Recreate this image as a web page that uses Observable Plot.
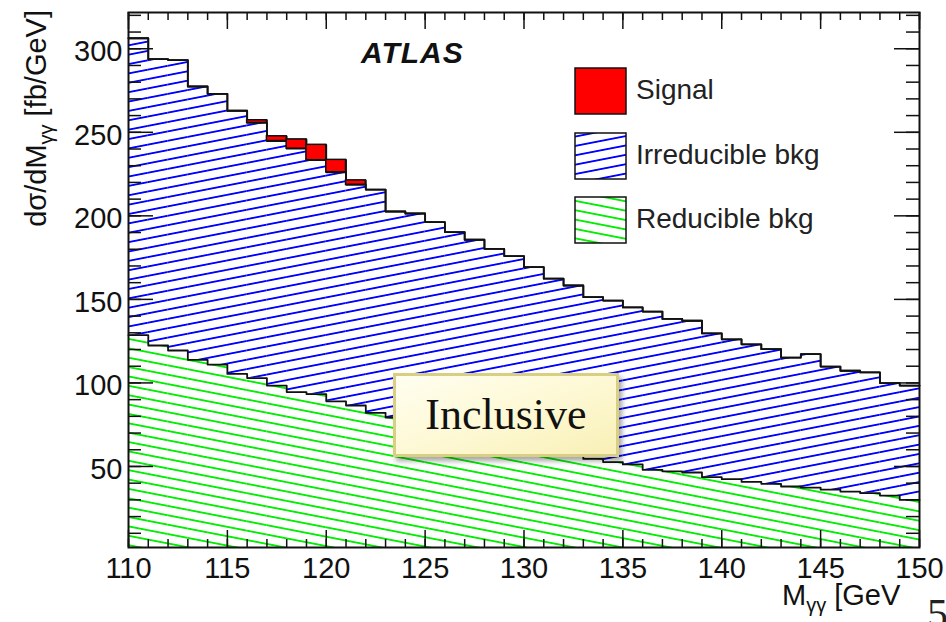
<!DOCTYPE html>
<html><head><meta charset="utf-8">
<script src="https://cdn.jsdelivr.net/npm/d3@7"></script>
<script src="https://cdn.jsdelivr.net/npm/@observablehq/plot@0.6"></script>
<style>
html,body{margin:0;padding:0;background:#fff;overflow:hidden;}
#wrap{position:relative;width:946px;height:622px;overflow:hidden;background:#fff;}
#incl{position:absolute;left:393px;top:373px;width:226px;height:84px;box-sizing:border-box;
  background:linear-gradient(160deg,#fffef0 0%,#fdf8d2 55%,#f9f0b6 100%);
  border:3px solid #d9cf82;box-shadow:3px 4px 5px rgba(0,0,0,0.35);
  font-family:"Liberation Serif","DejaVu Serif",serif;font-size:44px;color:#111;
  text-align:center;line-height:78px;}
</style></head>
<body><div id="wrap"><div id="incl">Inclusive</div></div>
<script>
// ---- data ----
const binLow = [110,111,112,113,114,115,116,117,118,119,120,121,122,123,124,125,126,127,128,129,
                130,131,132,133,134,135,136,137,138,139,140,141,142,143,144,145,146,147,148,149];
const binWidth = 1;
const reducible = [128.6,122.4,119.4,113.8,111.0,105.4,102.9,98.4,94.5,93.3,89.0,86.5,82.1,79.3,75.7,73.2,70.8,68.3,65.8,63.3,
                   60.9,58.4,56.4,54.5,52.6,51.2,48.0,47.1,46.4,43.6,42.4,40.8,39.6,38.0,37.3,36.1,35.0,34.0,32.6,30.0];
const irreducible = [177.7,171.4,173.8,163.6,162.0,157.5,152.7,146.4,145.7,140.0,137.1,132.1,133.6,123.3,125.7,123.0,119.5,117.4,114.4,112.6,
                     108.4,104.0,101.9,96.8,96.7,94.0,94.7,91.2,90.8,86.0,83.7,82.3,80.6,77.2,79.9,73.7,72.3,72.3,67.3,68.4];
const signal = [0,0,0,0,0,0,1.6,2.8,5.5,9.2,7.4,2.6,0,0,0,0,0,0,0,0,
                0,0,0,0,0,0,0,0,0,0,0,0,0,0,0,0,0,0,0,0];
const components = ["Reducible bkg","Irreducible bkg","Signal"];
const legendLabels = ["Signal","Irreducible bkg","Reducible bkg"];
const xTickLabels = [110,115,120,125,130,135,140,145,150];
const yTickLabels = [50,100,150,200,250,300];

// ---- build tables ----
const layers = [];
binLow.forEach((lo,i)=>{
  const r = reducible[i], b = r + irreducible[i], t = b + signal[i];
  layers.push({comp:components[0], lo, hi:lo+binWidth, y1:0, y2:r});
  layers.push({comp:components[1], lo, hi:lo+binWidth, y1:r, y2:b});
  layers.push({comp:components[2], lo, hi:lo+binWidth, y1:b, y2:t});
});
const contour = [];
for (const comp of components) {
  const rows = layers.filter(d=>d.comp===comp);
  rows.forEach(d=>contour.push({comp, x:d.lo, y:d.y2}));
  const last = rows[rows.length-1];
  contour.push({comp, x:last.hi, y:last.y2});
}
const xMinor = d3.range(110, 151, 1);
const yMinor = d3.range(10, 321, 10);

const W = 946, H = 622, mL = 128, mR = 27, mT = 12, mB = 75;
const pw = W - mL - mR, ph = H - mT - mB;
const font = "Liberation Sans, Arial, Helvetica, sans-serif";
const ink = "#111";

const svg = Plot.plot({
  width: W, height: H,
  marginLeft: mL, marginRight: mR, marginTop: mT, marginBottom: mB,
  style: {background: "white", overflow: "visible"},
  x: {domain: [110, 150], axis: null},
  y: {domain: [1.5, 321.7], axis: null},
  marks: [
    Plot.rectY(layers.filter(d=>d.comp==="Reducible bkg"), {x1:"lo", x2:"hi", y1:"y1", y2:"y2", fill:"url(#hatchGreen)", clip:true}),
    Plot.rectY(layers.filter(d=>d.comp==="Irreducible bkg"), {x1:"lo", x2:"hi", y1:"y1", y2:"y2", fill:"url(#hatchBlue)", clip:true}),
    Plot.line(contour, {x:"x", y:"y", z:"comp", curve:"step-after", stroke:ink, strokeWidth:1.8}),
    Plot.rectY(layers.filter(d=>d.comp==="Signal" && d.y2>d.y1), {x1:"lo", x2:"hi", y1:"y1", y2:"y2", fill:"#ff0000", stroke:ink, strokeWidth:1.5}),
    // ticks (ROOT style, inward on all four sides)
    Plot.ruleX(xMinor, {x:d=>d, insetTop: ph-8, stroke:ink, strokeWidth:1.5}),
    Plot.ruleX(xMinor, {x:d=>d, insetBottom: ph-8, stroke:ink, strokeWidth:1.5}),
    Plot.ruleX(xTickLabels, {x:d=>d, insetTop: ph-17, stroke:ink, strokeWidth:1.5}),
    Plot.ruleX(xTickLabels, {x:d=>d, insetBottom: ph-17, stroke:ink, strokeWidth:1.5}),
    Plot.ruleY(yMinor, {y:d=>d, insetRight: pw-13, stroke:ink, strokeWidth:1.5}),
    Plot.ruleY(yMinor, {y:d=>d, insetLeft: pw-13, stroke:ink, strokeWidth:1.5}),
    Plot.ruleY(yTickLabels, {y:d=>d, insetRight: pw-25, stroke:ink, strokeWidth:1.5}),
    Plot.ruleY(yTickLabels, {y:d=>d, insetLeft: pw-25, stroke:ink, strokeWidth:1.5}),
    Plot.frame({stroke:ink, strokeWidth:2}),
    Plot.text(xTickLabels, {x:d=>d, text:d=>String(d), frameAnchor:"bottom", lineAnchor:"top", dy:10, fontSize:29, fontFamily:font, fill:ink}),
    Plot.text(yTickLabels, {y:d=>d, text:d=>String(d), frameAnchor:"left", textAnchor:"end", lineAnchor:"middle", dx:-6, dy:3, fontSize:29, fontFamily:font, fill:ink})
  ]
});

const s = d3.select(svg);
const defs = s.insert("defs", ":first-child");
function hatch(id, color, angle) {
  const p = defs.append("pattern").attr("id", id).attr("patternUnits", "userSpaceOnUse")
    .attr("width", 40).attr("height", 9.2).attr("patternTransform", `rotate(${angle})`);
  p.append("line").attr("x1", -1).attr("x2", 41).attr("y1", 4.6).attr("y2", 4.6)
    .attr("stroke", color).attr("stroke-width", 1.7);
}
hatch("hatchBlue", "#0000ff", -11);
hatch("hatchGreen", "#00ee00", 11);

// ATLAS label
s.append("text").attr("x", 361).attr("y", 63).attr("text-anchor", "start").attr("font-family", font).attr("font-size", 30)
  .attr("font-weight", "bold").attr("font-style", "italic").attr("letter-spacing", 1).attr("fill", ink).text("ATLAS");

// legend
const legendFill = {"Signal":"#ff0000", "Irreducible bkg":"url(#hatchBlue)", "Reducible bkg":"url(#hatchGreen)"};
const legendTop = [68, 133, 197];
legendLabels.forEach((lab, i) => {
  s.append("rect").attr("x", 575).attr("y", legendTop[i]).attr("width", 51).attr("height", 46)
    .attr("fill", legendFill[lab]).attr("stroke", ink).attr("stroke-width", 1.5);
  s.append("text").attr("x", 636).attr("y", legendTop[i] + 31).attr("text-anchor", "start").attr("font-family", font).attr("font-size", 28)
    .attr("fill", "#222").text(lab);
});

// y-axis title
const yt = s.append("text").attr("transform", "translate(46,10) rotate(-90)").attr("text-anchor", "end")
  .attr("font-family", font).attr("font-size", 29).attr("fill", ink);
yt.append("tspan").text("dσ/dM");
yt.append("tspan").attr("font-size", 20).attr("dy", 7).text("γγ");
yt.append("tspan").attr("dy", -7).text(" [fb/GeV]");

// x-axis title (cut off on the right in the original)
const xt = s.append("text").attr("x", 782).attr("y", 605).attr("text-anchor", "start").attr("font-family", font).attr("font-size", 29).attr("fill", ink);
xt.append("tspan").text("M");
xt.append("tspan").attr("font-size", 20).attr("dy", 7).text("γγ");
xt.append("tspan").attr("dy", -7).text(" [GeV");

// slide number fragment at bottom-right corner
s.append("text").attr("x", 927).attr("y", 628).attr("text-anchor", "start").attr("font-family", "Liberation Serif, serif").attr("font-size", 42)
  .attr("fill", "#222").text("5");

const wrap = document.getElementById("wrap");
wrap.insertBefore(svg, wrap.firstChild);
svg.style.position = "absolute"; svg.style.left = "0"; svg.style.top = "0";
</script>
</body></html>
